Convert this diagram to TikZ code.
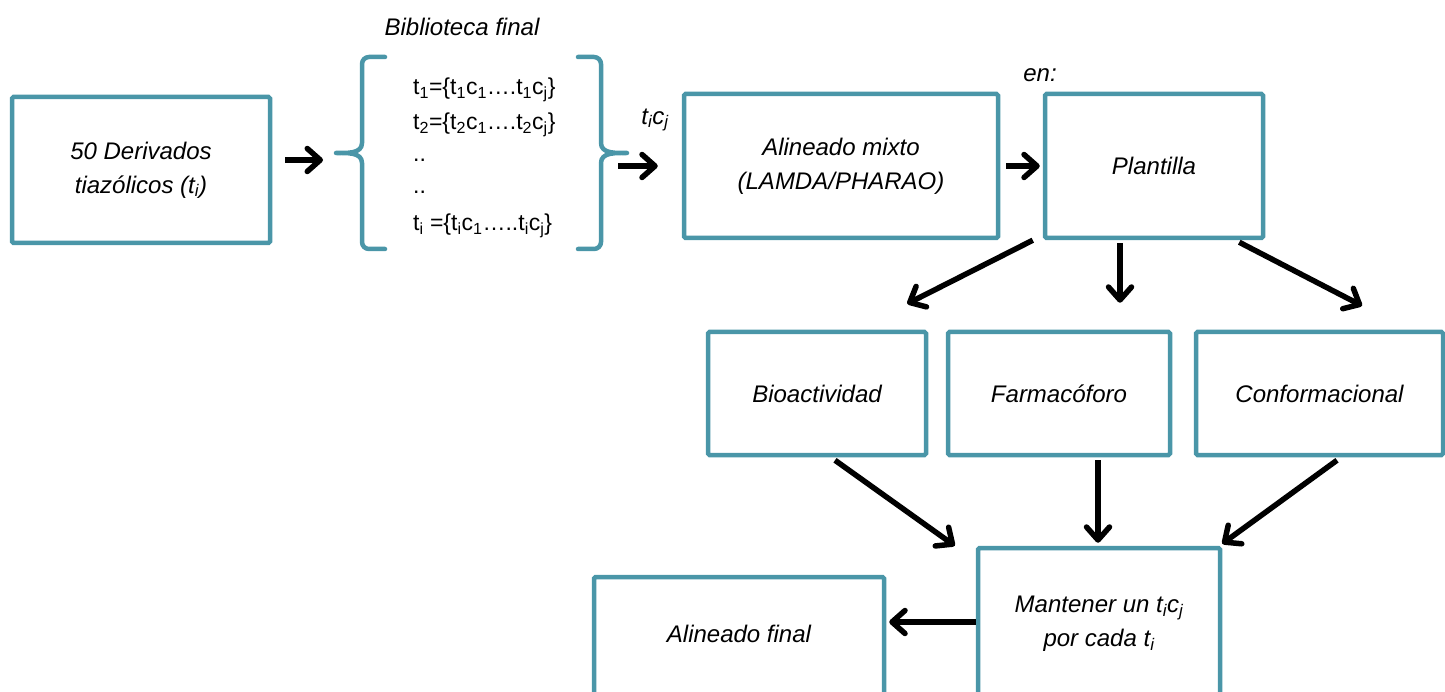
\documentclass[tikz,border=0pt]{standalone}
\usepackage{fontspec}
\setmainfont{Liberation Sans}
\usetikzlibrary{arrows.meta,calc}
\definecolor{teal1}{RGB}{74,150,168}
\tikzset{
  box/.style={draw=teal1, line width=4.5pt, rectangle, rounded corners=1.5pt, fill=white,
    align=center, inner sep=0pt, font=\itshape\fontsize{24}{34}\selectfont},
  arr/.style={line width=5.5pt, -{Straight Barb[length=13pt,width=23pt,round]}},
  brace/.style={draw=teal1, line width=4.5pt, line cap=round, line join=round},
  lbl/.style={font=\itshape\fontsize{24}{34}\selectfont, inner sep=0pt},
  lst/.style={font=\fontsize{23}{30}\selectfont, inner sep=0pt, anchor=base west}
}
\begin{document}
\begin{tikzpicture}[x=1pt,y=-1pt]
\useasboundingbox (0,0) rectangle (1445,692);
\clip (0,0) rectangle (1445,692);
% boxes
\node[box, minimum width=258pt, minimum height=146pt] (deriv) at (141,170) {50 Derivados\\tiazólicos (t\textsubscript{i})};
\node[box, minimum width=314pt, minimum height=144pt] (alin) at (841,166) {Alineado mixto\\(LAMDA/PHARAO)};
\node[box, minimum width=218pt, minimum height=144pt] (plant) at (1154,166) {Plantilla};
\node[box, minimum width=218pt, minimum height=123pt] (bio) at (817,393.5) {Bioactividad};
\node[box, minimum width=222pt, minimum height=123pt] (farm) at (1059,393.5) {Farmacóforo};
\node[box, minimum width=247pt, minimum height=123pt] (conf) at (1319.5,393.5) {Conformacional};
\node[box, minimum width=242pt, minimum height=152pt] (mant) at (1099,624) {Mantener un t\textsubscript{i}c\textsubscript{j}\\por cada t\textsubscript{i}};
\node[box, minimum width=290pt, minimum height=123pt] (final) at (739,638.5) {};
\node[lbl] (finaltxt) at (739,634) {Alineado final};
% labels
\node[lbl] (bib) at (462,27) {Biblioteca final};
\node[lbl] (en) at (1040,75) {en:};
\node[lbl] (ticj) at (655,120) {t\textsubscript{i}c\textsubscript{j}};
% list
\node[lst] (l1) at (413,95) {t\textsubscript{1}=\{t\textsubscript{1}c\textsubscript{1}….t\textsubscript{1}c\textsubscript{j}\}};
\node[lst] (l2) at (413,130) {t\textsubscript{2}=\{t\textsubscript{2}c\textsubscript{1}….t\textsubscript{2}c\textsubscript{j}\}};
\node[lst] (l3) at (413,162) {..};
\node[lst] (l4) at (413,194) {..};
\node[lst] (l5) at (413,231) {t\textsubscript{i} =\{t\textsubscript{i}c\textsubscript{1}…..t\textsubscript{i}c\textsubscript{j}\}};
% braces
\coordinate (lbrtip) at (336,153);
\coordinate (rbrtip) at (627,153);
\draw[brace] (385,57) -- (369,57) to[out=180,in=90] (362,64) -- (362,143) to[out=-90,in=0] (lbrtip)
  to[out=0,in=90] (362,163) -- (362,242) to[out=-90,in=180] (369,249) -- (385,249);
\draw[brace] (578,57) -- (594,57) to[out=0,in=90] (601,64) -- (601,143) to[out=-90,in=180] (rbrtip)
  to[out=180,in=90] (601,163) -- (601,242) to[out=-90,in=0] (594,249) -- (578,249);
% arrows
\draw[arr] ($(deriv.east)+(13,-10)$) -- ($(lbrtip)+(-13,7)$);
\draw[arr] ($(rbrtip)+(-9,13)$) -- ($(alin.west)+(-24,0)$);
\draw[arr] ($(alin.east)+(6,0)$) -- ($(plant.west)+(-3,0)$);
\draw[arr] ($(plant.south west)+(-10,0)$) -- ($(bio.north east)+(-21,-26)$);
\draw[arr] ($(plant.south)+(-34,3)$) -- ($(farm.north)+(61,-27)$);
\draw[arr] ($(plant.south east)+(-26,2)$) -- ($(conf.north)+(42.5,-24)$);
\draw[arr] ($(bio.south)+(18,3)$) -- ($(mant.north west)+(-21,0)$);
\draw[arr] ($(farm.south)+(39,3)$) -- ($(mant.north)+(-1,-3)$);
\draw[arr] ($(conf.south)+(17.5,3)$) -- ($(mant.north east)+(0,-2)$);
\draw[arr] ($(mant.west)+(0,-2)$) -- ($(final.east)+(3,-16.5)$);
\end{tikzpicture}
\end{document}
